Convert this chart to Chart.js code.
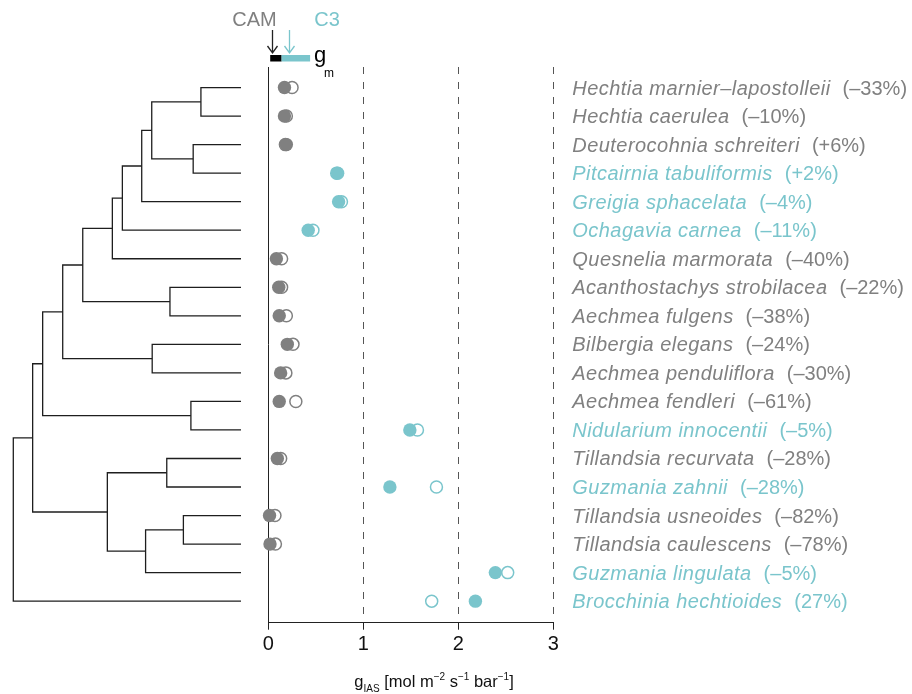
<!DOCTYPE html>
<html>
<head>
<meta charset="utf-8">
<title>gIAS Bromeliaceae</title>
<script src="https://cdn.jsdelivr.net/npm/chart.js"></script>
<style>
  html, body { margin: 0; padding: 0; background: #fff; }
  #wrap { width: 912px; height: 694px; }
</style>
</head>
<body>
<div id="wrap"><canvas id="chart"></canvas></div>
<script>
// Species (top to bottom) and pathway
const species = [
  'Hechtia marnier–lapostolleii', 'Hechtia caerulea', 'Deuterocohnia schreiteri',
  'Pitcairnia tabuliformis', 'Greigia sphacelata', 'Ochagavia carnea',
  'Quesnelia marmorata', 'Acanthostachys strobilacea', 'Aechmea fulgens',
  'Bilbergia elegans', 'Aechmea penduliflora', 'Aechmea fendleri',
  'Nidularium innocentii', 'Tillandsia recurvata', 'Guzmania zahnii',
  'Tillandsia usneoides', 'Tillandsia caulescens', 'Guzmania lingulata',
  'Brocchinia hechtioides'
];
const pathway = ['CAM', 'CAM', 'CAM', 'C3', 'C3', 'C3', 'CAM', 'CAM', 'CAM', 'CAM',
  'CAM', 'CAM', 'C3', 'CAM', 'C3', 'CAM', 'CAM', 'C3', 'C3'];
const change = ['(–33%)', '(–10%)', '(+6%)', '(+2%)', '(–4%)', '(–11%)', '(–40%)',
  '(–22%)', '(–38%)', '(–24%)', '(–30%)', '(–61%)', '(–5%)', '(–28%)', '(–28%)',
  '(–82%)', '(–78%)', '(–5%)', '(27%)'];

// gIAS values: filled and open circles
const gIasFilled = [0.17, 0.17, 0.19, 0.73, 0.74, 0.42, 0.085, 0.11, 0.115, 0.20,
  0.13, 0.115, 1.49, 0.095, 1.28, 0.013, 0.018, 2.39, 2.18];
const gIasOpen = [0.25, 0.19, 0.18, 0.72, 0.77, 0.47, 0.14, 0.14, 0.19, 0.26,
  0.185, 0.29, 1.57, 0.13, 1.77, 0.07, 0.075, 2.52, 1.72];

const xTicks = [0, 1, 2, 3];

// Phylogeny: clades with their two children (tip index or clade name) and depth (root 0, tips 1)
const cladeNames = ['A', 'B', 'C', 'D', 'E', 'F', 'G', 'H', 'I', 'J', 'K', 'L', 'M', 'N', 'O', 'P', 'Q', 'R'];
const cladeChildren = [[0, 1], [2, 3], ['A', 'B'], ['C', 4], ['D', 5], ['E', 6], [7, 8], ['F', 'G'],
  [9, 10], ['H', 'I'], [11, 12], ['J', 'K'], [13, 14], [15, 16], ['N', 17], ['M', 'O'], ['L', 'P'], ['Q', 18]];
const cladeDepth = [0.824, 0.790, 0.608, 0.564, 0.479, 0.435, 0.688, 0.305, 0.610, 0.217,
  0.780, 0.129, 0.674, 0.747, 0.581, 0.413, 0.085, 0];

// gm legend: bar breaks and arrows (in gIAS units)
const gmBar = [0.02, 0.14, 0.44];
const gmArrows = [0.035, 0.22];

const colors = { CAM: '#808080', C3: '#7ac5cc' };
const family = '"Liberation Sans", Arial, Helvetica, sans-serif';
Chart.defaults.font.family = family;

// Tree segments
const nodes = {};
species.forEach((s, i) => { nodes[i] = { x: 1, y: i }; });
const treeSets = cladeNames.map((name, k) => {
  const [a, b] = cladeChildren[k].map(c => nodes[c]);
  const d = cladeDepth[k];
  nodes[name] = { x: d, y: (a.y + b.y) / 2 };
  return {
    data: [{ x: a.x, y: a.y }, { x: d, y: a.y }, { x: d, y: b.y }, { x: b.x, y: b.y }],
    xAxisID: 'xt',
    showLine: true,
    borderColor: '#1e1e1e',
    borderWidth: 1.3,
    pointRadius: 0,
    pointHoverRadius: 0
  };
});

const rowColors = pathway.map(p => colors[p]);

// Extra drawing: axis line, species labels, axis title, gm legend
const decor = {
  id: 'decor',
  afterDraw(chart) {
    const ctx = chart.ctx;
    const x = chart.scales.x, y = chart.scales.y;
    const area = chart.chartArea;
    const x0 = x.getPixelForValue(xTicks[0]);
    const x3 = x.getPixelForValue(xTicks[xTicks.length - 1]);
    ctx.save();

    ctx.strokeStyle = '#222';
    ctx.lineWidth = 1;
    ctx.beginPath();
    ctx.moveTo(x0, Math.round(area.bottom) + 0.5);
    ctx.lineTo(x3, Math.round(area.bottom) + 0.5);
    ctx.stroke();

    ctx.textAlign = 'left';
    ctx.textBaseline = 'alphabetic';
    species.forEach((name, i) => {
      const py = y.getPixelForValue(i) + 7;
      ctx.fillStyle = rowColors[i];
      ctx.font = 'italic 20px ' + family;
      ctx.letterSpacing = '0.45px';
      ctx.fillText(name, x3 + 19, py);
      const w = ctx.measureText(name).width;
      ctx.letterSpacing = '0px';
      ctx.font = '20px ' + family;
      ctx.fillText(change[i], x3 + 19 + w + 12, py);
    });

    // x title with sub/superscripts
    const parts = [
      ['g', 16.5, 0], ['IAS', 10, 5], [' [mol m', 16.5, 0], ['−2', 10, -7], [' s', 16.5, 0],
      ['−1', 10, -7], [' bar', 16.5, 0], ['−1', 10, -7], [']', 16.5, 0]
    ];
    let tx = x0 + 86;
    const ty = area.bottom + 65;
    ctx.fillStyle = '#111';
    parts.forEach(([t, size, dy]) => {
      ctx.font = size + 'px ' + family;
      ctx.fillText(t, tx, ty + dy);
      tx += ctx.measureText(t).width;
    });

    // gm legend above the plot
    const top = area.top;
    const bx = gmBar.map(v => x.getPixelForValue(v));
    ctx.fillStyle = '#000';
    ctx.fillRect(bx[0], top - 12, bx[1] - bx[0], 6.5);
    ctx.fillStyle = colors.C3;
    ctx.fillRect(bx[1], top - 12, bx[2] - bx[1], 6.5);
    gmArrows.forEach((v, k) => {
      const ax = Math.round(x.getPixelForValue(v)) + 0.5;
      ctx.strokeStyle = k ? colors.C3 : '#222';
      ctx.lineWidth = 1.3;
      ctx.beginPath();
      ctx.moveTo(ax, top - 37);
      ctx.lineTo(ax, top - 14);
      ctx.moveTo(ax - 5, top - 21);
      ctx.lineTo(ax, top - 14);
      ctx.lineTo(ax + 5, top - 21);
      ctx.stroke();
    });
    const ax = gmArrows.map(v => x.getPixelForValue(v));
    ctx.font = '20px ' + family;
    ctx.fillStyle = colors.CAM;
    ctx.textAlign = 'right';
    ctx.fillText('CAM', ax[0] + 5, top - 41.5);
    ctx.fillStyle = colors.C3;
    ctx.textAlign = 'left';
    ctx.fillText('C3', ax[1] + 25, top - 41.5);
    ctx.fillStyle = '#000';
    ctx.font = '22px ' + family;
    ctx.fillText('g', bx[2] + 4, top - 5);
    ctx.font = '12px ' + family;
    ctx.fillText('m', bx[2] + 14, top + 10);
    ctx.restore();
  }
};

new Chart(document.getElementById('chart'), {
  type: 'scatter',
  data: {
    datasets: [
      {
        label: 'gIAS',
        data: gIasFilled.map((v, i) => ({ x: v, y: i })),
        pointBackgroundColor: rowColors,
        pointBorderColor: rowColors,
        pointBorderWidth: 0,
        pointRadius: 6.7,
        pointHoverRadius: 6.7
      },
      {
        label: 'gIAS (open)',
        data: gIasOpen.map((v, i) => ({ x: v, y: i })),
        pointBackgroundColor: '#fff',
        pointBorderColor: rowColors,
        pointBorderWidth: 1.5,
        pointRadius: 6,
        pointHoverRadius: 6
      },
      ...treeSets
    ]
  },
  options: {
    responsive: true,
    maintainAspectRatio: false,
    animation: false,
    events: [],
    layout: { padding: { left: 10, right: 358.7, top: 67, bottom: 0 } },
    plugins: { legend: { display: false }, tooltip: { enabled: false } },
    scales: {
      x: {
        type: 'linear',
        min: -2.719,
        max: 3,
        afterBuildTicks: s => { s.ticks = xTicks.map(v => ({ value: v })); },
        afterFit: s => { s.height = 72.3; },
        ticks: { color: '#111', font: { size: 20 }, padding: 3, maxRotation: 0 },
        grid: {
          color: c => (c.tick && c.tick.value === 0 ? '#222' : '#555'),
          lineWidth: 1,
          tickLength: 8,
          tickColor: '#222'
        },
        border: {
          display: false,
          dash: c => (c.tick && c.tick.value === 0 ? [] : [7, 8])
        }
      },
      xt: { type: 'linear', display: false, min: -0.0145, max: 2.3716 },
      y: { type: 'linear', display: false, reverse: true, min: -0.72, max: 18.72 }
    }
  },
  plugins: [decor]
});
</script>
</body>
</html>
